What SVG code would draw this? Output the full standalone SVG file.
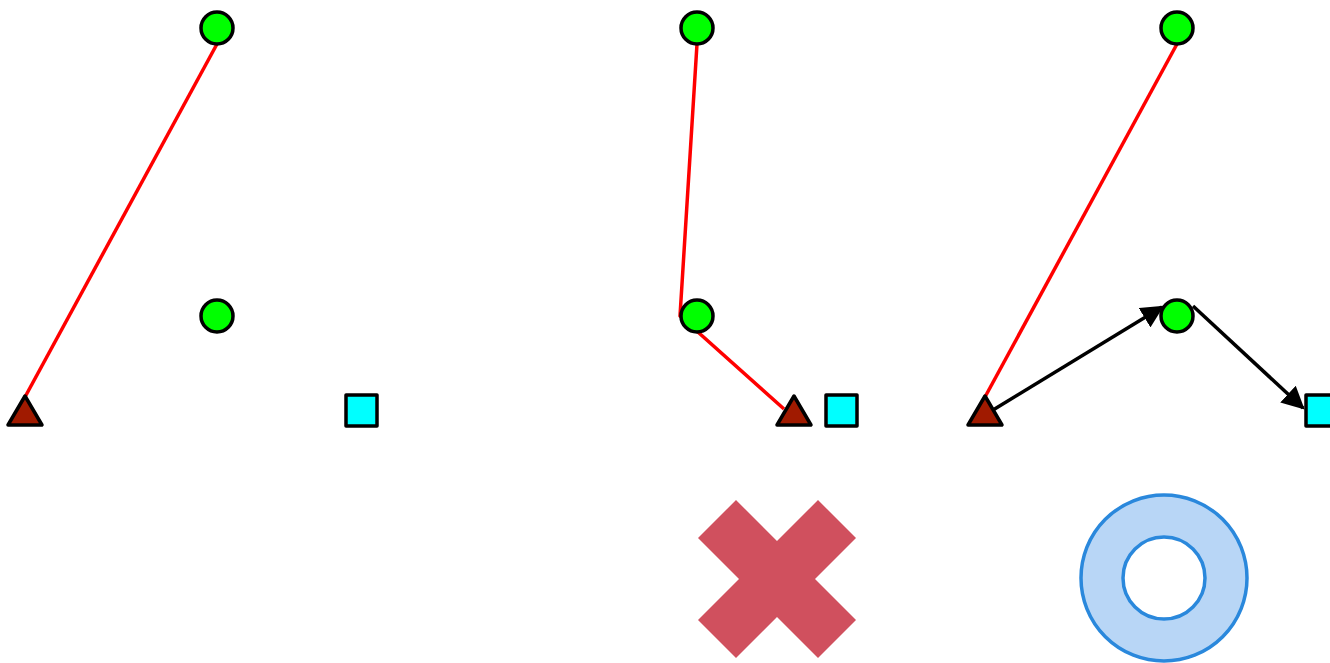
<svg xmlns="http://www.w3.org/2000/svg" width="1330" height="663" viewBox="0 0 1330 663">
<style>
.c{fill:#00ff00;stroke:#000;stroke-width:3.5}
.t{fill:#a01a00;stroke:#000;stroke-width:3.5;stroke-linejoin:round}
.s{fill:#00ffff;stroke:#000;stroke-width:3.5;stroke-linejoin:round}
.r{fill:none;stroke:#ff0000;stroke-width:3.5;stroke-linejoin:round}
.a{fill:none;stroke:#000;stroke-width:3.5;marker-end:url(#ah)}
</style>
<defs>
<marker id="ah" viewBox="0 0 10 10" refX="9" refY="5" markerWidth="6.5" markerHeight="6.5" markerUnits="strokeWidth" orient="auto"><path d="M0,0 L10,5 L0,10 z" fill="#000"/></marker>
</defs>
<g id="connectors">
<line class="r" x1="217" y1="44" x2="25" y2="397"/>
<polyline class="r" points="697,44 680,316 784,409"/>
<line class="r" x1="1177" y1="44" x2="985" y2="397"/>
<line class="a" x1="993" y1="410" x2="1162" y2="307"/>
<line class="a" x1="1193" y1="306" x2="1303" y2="408"/>
</g>
<g id="p1-circle-top"><circle class="c" cx="217" cy="28" r="16"/></g>
<g id="p1-circle-mid"><circle class="c" cx="217" cy="316" r="16"/></g>
<g id="p1-triangle"><polygon class="t" points="25,396 42,425 8,425"/></g>
<g id="p1-square"><rect class="s" x="346" y="395" width="31" height="31"/></g>
<g id="p2-circle-top"><circle class="c" cx="697" cy="28" r="16"/></g>
<g id="p2-circle-mid"><circle class="c" cx="697" cy="316" r="16"/></g>
<g id="p2-triangle"><polygon class="t" points="794,396 811,425 777,425"/></g>
<g id="p2-square"><rect class="s" x="826" y="395" width="31" height="31"/></g>
<g id="p3-circle-top"><circle class="c" cx="1177" cy="28" r="16"/></g>
<g id="p3-circle-mid"><circle class="c" cx="1177" cy="316" r="16"/></g>
<g id="p3-triangle"><polygon class="t" points="985,396 1002,425 968,425"/></g>
<g id="p3-square"><rect class="s" x="1306" y="395" width="31" height="31"/></g>
<g id="cross"><polygon fill="#d0505e" points="736,500 777,541 818,500 856,538 815,579 856,620 818,658 777,617 736,658 698,620 739,579 698,538"/></g>
<g id="ring"><path fill="#b8d6f6" fill-rule="evenodd" stroke="#2a88dc" stroke-width="3.5" d="M1081,578 a83,83 0 1,0 166,0 a83,83 0 1,0 -166,0 z M1123,578 a41,41 0 1,0 82,0 a41,41 0 1,0 -82,0 z"/></g>
</svg>
